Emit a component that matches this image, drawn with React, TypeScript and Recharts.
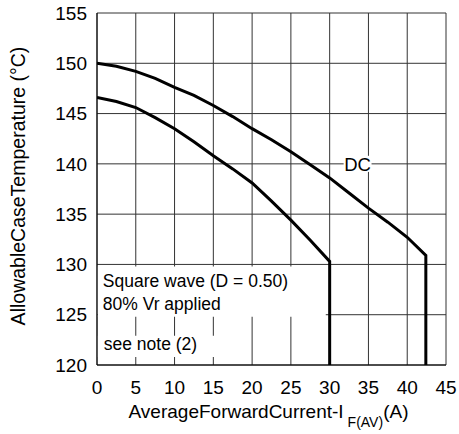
import {
  LineChart,
  Line,
  XAxis,
  YAxis,
  CartesianGrid,
  ReferenceArea,
} from "recharts";

const xTicks = [0, 5, 10, 15, 20, 25, 30, 35, 40, 45];
const yTicks = [120, 125, 130, 135, 140, 145, 150, 155];

const dcCurrent = [0, 2.5, 5, 7.5, 10, 12.5, 15, 17.5, 20, 22.5, 25, 27.5, 30, 32.5, 35, 37.5, 40, 42.4, 42.4];
const dcTemp = [150.0, 149.7, 149.2, 148.5, 147.6, 146.8, 145.8, 144.7, 143.5, 142.4, 141.2, 139.9, 138.6, 137.1, 135.6, 134.2, 132.7, 130.9, 120];

const sqCurrent = [0, 2.5, 5, 7.5, 10, 12.5, 15, 17.5, 20, 22.5, 25, 27.5, 30, 30];
const sqTemp = [146.6, 146.2, 145.6, 144.6, 143.5, 142.2, 140.8, 139.5, 138.1, 136.3, 134.4, 132.4, 130.3, 120];

const dcData = dcCurrent.map((x, i) => ({ x, y: dcTemp[i] }));
const sqData = sqCurrent.map((x, i) => ({ x, y: sqTemp[i] }));

const font = "'Liberation Sans', Arial, sans-serif";

const XTitle = (props: any) => {
  const vb = props.viewBox;
  const cx = vb.x + vb.width / 2 - 3;
  return (
    <text x={cx} y={418} textAnchor="middle" fontSize={19} fontFamily={font} fill="#000">
      <tspan>AverageForwardCurrent-I</tspan>
      <tspan fontSize={14} dx={4} dy={9}>F(AV)</tspan>
      <tspan dy={-9}>(A)</tspan>
    </text>
  );
};

const YTitle = () => {
  const cy = 186;
  return (
    <text
      x={18}
      y={cy}
      textAnchor="middle"
      dominantBaseline="central"
      fontSize={19.5}
      fontFamily={font}
      fill="#000"
      transform={`rotate(-90, 18, ${cy})`}
    >
      AllowableCaseTemperature (°C)
    </text>
  );
};

const Box1Label = (props: any) => {
  const vb = props.viewBox;
  return (
    <g fontSize={17.5} fontFamily={font} fill="#000">
      <text x={vb.x + 5} y={vb.y + 21}>Square wave (D = 0.50)</text>
      <text x={vb.x + 5} y={vb.y + 43.5}>80% Vr applied</text>
    </g>
  );
};

const Box2Label = (props: any) => {
  const vb = props.viewBox;
  return (
    <text x={vb.x + 6} y={vb.y + 14.5} fontSize={17.5} fontFamily={font} fill="#000">
      see note (2)
    </text>
  );
};

const DcLabel = (props: any) => {
  const vb = props.viewBox;
  return (
    <text
      x={vb.x + vb.width / 2}
      y={vb.y + vb.height / 2 + 1}
      textAnchor="middle"
      dominantBaseline="central"
      fontSize={18.5}
      fontFamily={font}
      fill="#000"
    >
      DC
    </text>
  );
};

export default function App() {
  return (
    <div style={{ width: 459, height: 434, background: "#fff" }}>
      <style>{`body{margin:0}`}</style>
      <LineChart width={459} height={434} margin={{ top: 13, right: 13, left: 0, bottom: 0 }}>
        <CartesianGrid stroke="#333" strokeWidth={1} />
        <XAxis
          type="number"
          dataKey="x"
          domain={[0, 45]}
          ticks={xTicks}
          allowDataOverflow
          height={69}
          tickLine={false}
          tickMargin={10}
          axisLine={{ stroke: "#000" }}
          tick={{ fill: "#000", fontSize: 19, fontFamily: font }}
          label={<XTitle />}
        />
        <YAxis
          type="number"
          dataKey="y"
          domain={[120, 155]}
          ticks={yTicks}
          allowDataOverflow
          width={97}
          tickLine={false}
          tickMargin={4}
          axisLine={{ stroke: "#000" }}
          tick={{ fill: "#000", fontSize: 19, fontFamily: font }}
          label={<YTitle />}
        />
        <ReferenceArea x1={0.1} x2={29.5} y1={124.8} y2={129.8} fill="#fff" fillOpacity={1} stroke="none" label={<Box1Label />} />
        <ReferenceArea x1={0.1} x2={17} y1={120.8} y2={122.9} fill="#fff" fillOpacity={1} stroke="none" label={<Box2Label />} />
        <ReferenceArea x1={31.8} x2={35.4} y1={139.2} y2={140.8} fill="#fff" fillOpacity={1} stroke="none" label={<DcLabel />} />
        <Line data={dcData} dataKey="y" type="linear" stroke="#000" strokeWidth={3} dot={false} isAnimationActive={false} />
        <Line data={sqData} dataKey="y" type="linear" stroke="#000" strokeWidth={3} dot={false} isAnimationActive={false} />
      </LineChart>
    </div>
  );
}
